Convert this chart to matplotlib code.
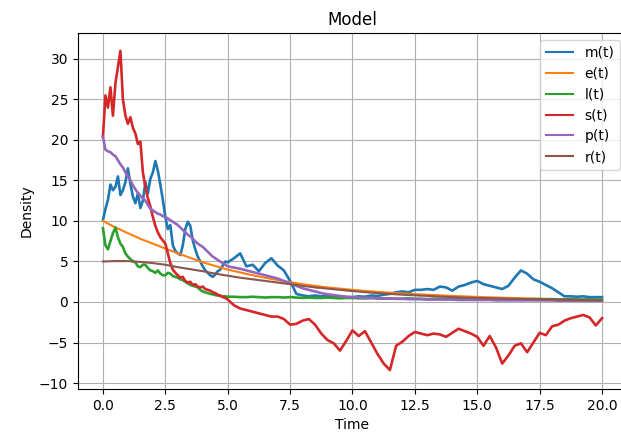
import matplotlib
matplotlib.use("Agg")
import matplotlib.pyplot as plt
import numpy as np

# sample times: fine steps for the fast early part, coarser after t = 5
t_fine = np.round(np.arange(0.0, 5.01, 0.1), 2)
t_coarse = np.round(np.arange(5.25, 20.01, 0.25), 2)
t_smooth = np.round(np.arange(0.0, 20.01, 0.5), 2)

m_fine = [10.1, 11.5, 12.6, 14.5, 13.8, 14.2, 15.5, 13.2, 13.8, 14.8,
          16.5, 14.6, 13.0, 12.2, 13.4, 11.6, 12.5, 14.8, 13.4, 15.2,
          16.0, 17.4, 16.2, 14.5, 12.6, 10.5, 9.0, 9.5, 7.0, 6.3,
          6.0, 5.8, 7.0, 9.0, 9.9, 9.4, 7.6, 6.5, 5.6, 5.0,
          4.4, 3.9, 3.6, 3.3, 3.1, 3.4, 3.8, 4.0, 4.5, 5.0,
          4.9]
m_coarse = [5.4, 6.0, 4.4, 4.6, 3.8, 4.8, 5.4, 4.5, 3.9, 2.6,
            1.0, 0.8, 0.7, 0.8, 0.7, 0.75, 0.6, 0.7, 0.6, 0.6,
            0.7, 0.65, 0.8, 0.75, 0.9, 1.0, 1.2, 1.3, 1.2, 1.5,
            1.5, 1.6, 1.5, 1.9, 1.8, 1.4, 1.9, 2.1, 2.4, 2.6,
            2.2, 2.0, 1.8, 1.6, 2.0, 3.0, 3.9, 3.5, 2.8, 2.5,
            2.1, 1.7, 1.2, 0.7, 0.7, 0.65, 0.7, 0.6, 0.6, 0.6]

e_vals = [10.0, 9.2, 8.5, 7.8, 7.2, 6.6, 6.0, 5.45, 4.9, 4.45,
          4.0, 3.65, 3.3, 3.0, 2.7, 2.45, 2.2, 2.0, 1.8, 1.65,
          1.5, 1.37, 1.25, 1.15, 1.05, 0.97, 0.9, 0.82, 0.75, 0.69,
          0.63, 0.58, 0.53, 0.49, 0.45, 0.41, 0.38, 0.35, 0.32, 0.3,
          0.27]

l_fine = [9.1, 7.0, 6.5, 7.5, 8.5, 9.2, 8.0, 7.2, 6.8, 6.0,
          5.6, 5.3, 5.0, 4.9, 4.4, 4.3, 4.6, 4.6, 4.2, 3.9,
          3.8, 3.6, 3.9, 3.5, 3.3, 3.3, 3.6, 3.5, 3.2, 3.1,
          3.0, 2.8, 2.7, 2.5, 2.3, 2.1, 2.0, 1.9, 1.8, 1.5,
          1.3, 1.2, 1.1, 1.0, 0.95, 0.85, 0.8, 0.75, 0.7, 0.7,
          0.65]
l_coarse = [0.65, 0.6, 0.6, 0.65, 0.6, 0.55, 0.6, 0.6, 0.55, 0.6,
            0.55, 0.5, 0.55, 0.5, 0.5, 0.55, 0.5, 0.45, 0.5, 0.5,
            0.45, 0.45, 0.5, 0.45, 0.4, 0.45, 0.4, 0.4, 0.45, 0.4,
            0.4, 0.35, 0.4, 0.4, 0.35, 0.4, 0.35, 0.35, 0.4, 0.35,
            0.35, 0.4, 0.35, 0.35, 0.3, 0.35, 0.35, 0.3, 0.35, 0.35,
            0.3, 0.35, 0.3, 0.3, 0.35, 0.3, 0.3, 0.35, 0.3, 0.3]

s_fine = [20.4, 25.5, 24.0, 26.5, 23.0, 27.0, 29.0, 31.0, 25.0, 23.0,
          22.0, 22.8, 21.5, 20.8, 19.5, 19.8, 16.0, 14.2, 12.8, 11.8,
          10.5, 9.4, 8.6, 8.0, 7.6, 7.2, 6.0, 4.8, 4.0, 3.6,
          3.3, 3.0, 3.1, 2.6, 2.4, 2.5, 2.1, 2.2, 1.9, 1.8,
          1.9, 1.6, 1.5, 1.4, 1.2, 1.1, 0.9, 0.8, 0.6, 0.5,
          0.3]
s_coarse = [-0.4, -0.8, -1.0, -1.2, -1.4, -1.6, -1.8, -1.8, -2.1, -2.8,
            -2.7, -2.3, -2.1, -2.8, -3.9, -4.7, -5.1, -6.0, -4.8, -3.5,
            -4.2, -3.6, -5.0, -6.4, -7.6, -8.4, -5.4, -4.9, -4.2, -3.7,
            -3.9, -4.1, -3.9, -4.0, -4.3, -3.8, -3.3, -3.6, -3.9, -4.3,
            -5.4, -4.2, -5.6, -7.6, -6.6, -5.4, -5.1, -6.2, -5.0, -3.8,
            -4.1, -3.0, -2.8, -2.3, -2.0, -1.8, -1.6, -1.9, -2.9, -2.0]

p_fine = [20.4, 18.8, 18.6, 18.5, 18.2, 18.0, 17.5, 17.0, 16.6, 16.0,
          15.5, 15.0, 14.4, 13.9, 13.5, 13.1, 12.8, 12.5, 12.0, 11.5,
          11.3, 11.1, 10.9, 10.8, 10.6, 10.5, 10.3, 10.1, 9.9, 9.7,
          9.5, 9.2, 8.9, 8.6, 8.3, 8.1, 7.8, 7.5, 7.2, 7.0,
          6.8, 6.5, 6.2, 5.9, 5.6, 5.4, 5.2, 5.0, 4.8, 4.6,
          4.4]
p_coarse = [4.25, 4.1, 3.9, 3.7, 3.5, 3.3, 3.1, 2.9, 2.6, 2.3,
            2.0, 1.7, 1.5, 1.3, 1.1, 0.95, 0.85, 0.75, 0.65, 0.6,
            0.55, 0.5, 0.5, 0.45, 0.45, 0.4, 0.4, 0.4, 0.35, 0.35,
            0.35, 0.3, 0.3, 0.3, 0.3, 0.3, 0.25, 0.25, 0.25, 0.25,
            0.25, 0.25, 0.2, 0.2, 0.2, 0.2, 0.2, 0.2, 0.2, 0.2,
            0.2, 0.2, 0.15, 0.15, 0.15, 0.15, 0.15, 0.15, 0.15, 0.15]

r_vals = [5.0, 5.05, 5.05, 4.95, 4.8, 4.6, 4.3, 4.05, 3.8, 3.5,
          3.25, 3.0, 2.8, 2.6, 2.4, 2.2, 2.0, 1.8, 1.65, 1.5,
          1.35, 1.22, 1.1, 1.0, 0.9, 0.82, 0.75, 0.67, 0.6, 0.55,
          0.5, 0.46, 0.42, 0.38, 0.35, 0.32, 0.3, 0.27, 0.25, 0.22,
          0.2]

t_all = np.concatenate([t_fine, t_coarse])

fig = plt.figure(figsize=(6.21, 4.40), dpi=100)
# the reference is clipped on the right, so the axes run past the figure edge
ax = fig.add_axes([0.1256, 0.1159, 0.884, 0.809])

# noisy series drawn a bit heavier to look like the dense random-walk traces
ax.plot(t_all, m_fine + m_coarse, lw=1.9, label="m(t)")
ax.plot(t_smooth, e_vals, label="e(t)")
ax.plot(t_all, l_fine + l_coarse, lw=1.9, label="l(t)")
ax.plot(t_all, s_fine + s_coarse, lw=1.9, label="s(t)")
ax.plot(t_all, p_fine + p_coarse, lw=1.9, label="p(t)")
ax.plot(t_smooth, r_vals, label="r(t)")

ax.set_xlim(-1, 21)
ax.set_ylim(-10.74, 33.2)
ax.grid(True)
ax.set_title("Model")
ax.set_xlabel("Time")
ax.set_ylabel("Density")
leg = ax.legend(loc="upper right")
for line in leg.get_lines():
    line.set_linewidth(1.5)

fig.savefig("out.png", dpi=100)
plt.close(fig)
